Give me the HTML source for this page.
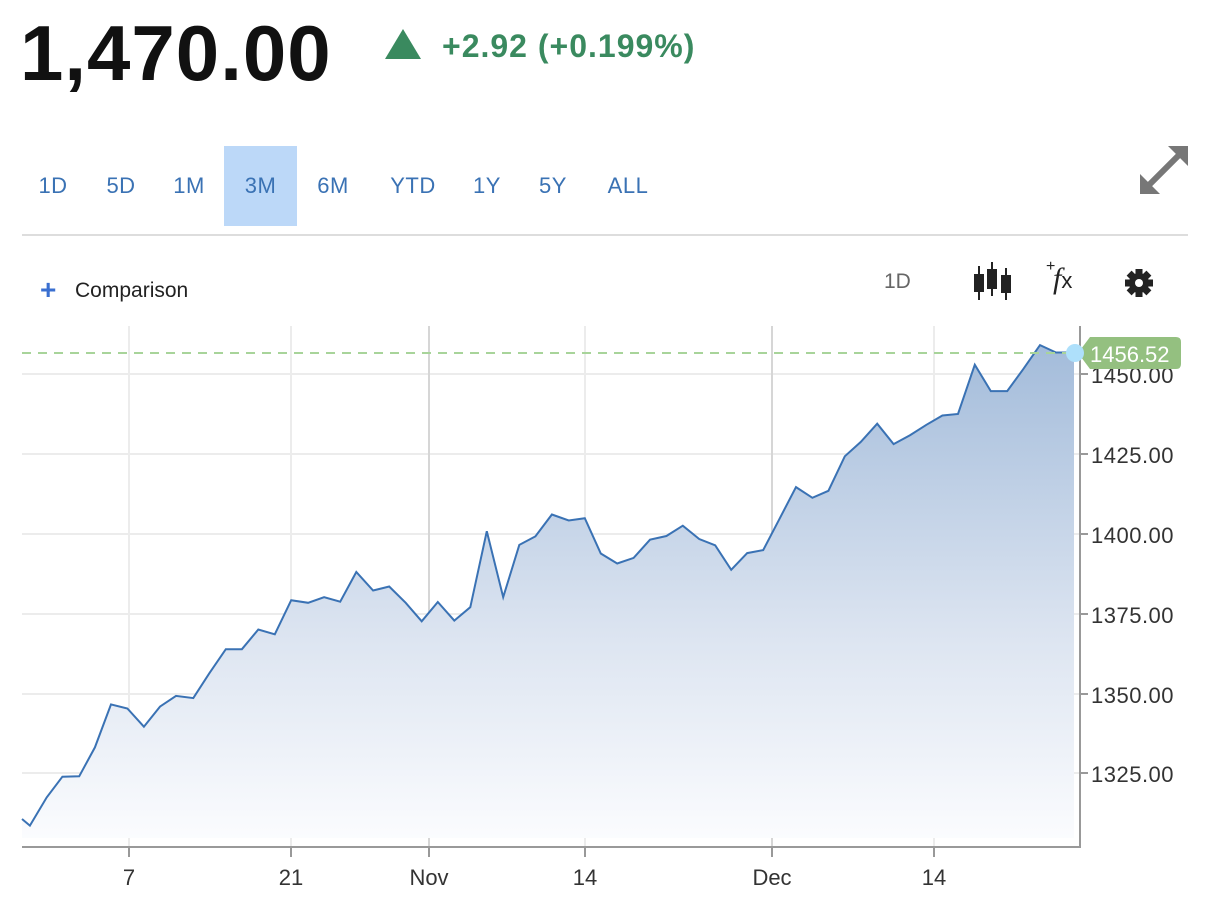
<!DOCTYPE html>
<html><head><meta charset="utf-8"><style>
body{margin:0;width:1210px;height:900px;background:#fff;font-family:"Liberation Sans",sans-serif;overflow:hidden;position:relative}
.a{position:absolute;white-space:nowrap}
.tab{position:absolute;top:146px;height:80px;line-height:80px;font-size:22px;color:#3a72b4;text-align:center;letter-spacing:0.5px}
</style></head><body>
<div class="a" style="left:20px;top:8px;font-size:78px;font-weight:bold;color:#111;letter-spacing:1px">1,470.00</div>
<svg class="a" style="left:384px;top:28px" width="38" height="32"><polygon points="19,1 37,31 1,31" fill="#3a8a5f"/></svg>
<div class="a" style="left:442px;top:28px;font-size:32px;font-weight:bold;color:#3a8a5f;letter-spacing:1px">+2.92 (+0.199%)</div>
<div class="a" style="left:224px;top:146px;width:73px;height:80px;background:#bcd8f8"></div>
<div class="tab" style="left:30px;width:46px">1D</div>
<div class="tab" style="left:98px;width:46px">5D</div>
<div class="tab" style="left:166px;width:46px">1M</div>
<div class="tab" style="left:224px;width:73px">3M</div>
<div class="tab" style="left:310px;width:46px">6M</div>
<div class="tab" style="left:380px;width:66px">YTD</div>
<div class="tab" style="left:464px;width:46px">1Y</div>
<div class="tab" style="left:530px;width:46px">5Y</div>
<div class="tab" style="left:600px;width:56px">ALL</div>
<svg class="a" style="left:1138px;top:144px" width="52" height="52"><g stroke="#777" stroke-width="6" fill="#777"><line x1="10" y1="42" x2="42" y2="10"/></g><polygon points="50,2 50,22 30,2" fill="#777"/><polygon points="2,50 2,30 22,50" fill="#777"/></svg>
<div class="a" style="left:22px;top:234px;width:1166px;height:2px;background:#ddd"></div>
<div class="a" style="left:40px;top:274px;font-size:28px;color:#3a6fd0;font-weight:bold">+</div>
<div class="a" style="left:75px;top:279px;font-size:21px;color:#222">Comparison</div>
<div class="a" style="left:884px;top:270px;font-size:21px;color:#666">1D</div>
<svg class="a" style="left:972px;top:262px" width="42" height="40"><g stroke="#222" stroke-width="2"><line x1="7" y1="4" x2="7" y2="38"/><line x1="20" y1="0" x2="20" y2="34"/><line x1="34" y1="6" x2="34" y2="38"/></g><g fill="#222"><rect x="2" y="12" width="10" height="18"/><rect x="15" y="7" width="10" height="20"/><rect x="29" y="13" width="10" height="18"/></g></svg>
<div class="a" style="left:1046px;top:258px;font-size:16px;color:#222">+</div>
<div class="a" style="left:1053px;top:262px;font-size:30px;font-style:italic;font-family:'Liberation Serif',serif;color:#222">f<span style="font-size:22px;font-style:normal;font-family:'Liberation Sans'">x</span></div>
<svg class="a" style="left:1124px;top:268px" width="30" height="30" viewBox="-15 -15 30 30"><g fill="#222"><circle r="10"/><g id="t"><rect x="-3.5" y="-14" width="7" height="28"/></g><use href="#t" transform="rotate(45)"/><use href="#t" transform="rotate(90)"/><use href="#t" transform="rotate(135)"/></g><circle r="4" fill="#fff"/></svg>
<svg class="a" style="left:0;top:0" width="1210" height="900">
<defs><linearGradient id="g" gradientUnits="userSpaceOnUse" x1="0" y1="340" x2="0" y2="840"><stop offset="0" stop-color="#a2bbda"/><stop offset="0.6" stop-color="#dde5f1"/><stop offset="1" stop-color="#fbfcfe"/></linearGradient></defs>
<g stroke="#ececec" stroke-width="2">
<line x1="22" y1="374" x2="1080" y2="374"/><line x1="22" y1="454" x2="1080" y2="454"/><line x1="22" y1="534" x2="1080" y2="534"/><line x1="22" y1="614" x2="1080" y2="614"/><line x1="22" y1="694" x2="1080" y2="694"/><line x1="22" y1="773" x2="1080" y2="773"/>
<line x1="129" y1="326" x2="129" y2="847"/><line x1="291" y1="326" x2="291" y2="847"/><line x1="585" y1="326" x2="585" y2="847"/><line x1="934" y1="326" x2="934" y2="847"/>
</g>
<g stroke="#d6d6d6" stroke-width="2"><line x1="429" y1="326" x2="429" y2="847"/><line x1="772" y1="326" x2="772" y2="847"/></g>
<path fill="url(#g)" d="M22,819 L29.9,825.6 46.7,797.4 62.4,776.7 79.2,776.3 94.9,747.4 111,704.4 127.4,708.5 143.9,726.7 160,706.6 176,695.9 193.3,698.1 209.3,673.3 225.8,649.2 241.9,649.2 258.3,629.5 274.8,634.3 291.2,600.2 308.1,602.8 324.1,597.2 340.2,601.7 356.3,572 373.1,590.5 389.2,586.5 405.7,602.8 421.7,621.3 437.8,602 454.3,620.6 470.3,607.2 486.8,531.2 503.2,597.2 519.3,544.9 535.4,536.4 551.9,514.5 568.7,520.5 584.8,518.2 600.8,553.5 617.2,563.5 633.6,557.9 650,539.7 666.4,536 682.8,525.7 699.2,539 715.2,545.3 731.2,569.8 747.2,553.1 763.2,550.1 779.2,519.4 796,487.1 812.4,497.8 828.4,490.8 844.8,456.3 860.8,441.9 877.2,423.7 893.6,444.1 910,435.2 926.4,424.8 942.4,415.5 958,414 974.8,364.7 990.8,391.1 1007.2,391.1 1023.2,369.2 1040,345.1 1056,352.5 1074,352.5 L1074,838 L22,838 Z"/>
<polyline fill="none" stroke="#3a72b4" stroke-width="2" points="22,819 29.9,825.6 46.7,797.4 62.4,776.7 79.2,776.3 94.9,747.4 111,704.4 127.4,708.5 143.9,726.7 160,706.6 176,695.9 193.3,698.1 209.3,673.3 225.8,649.2 241.9,649.2 258.3,629.5 274.8,634.3 291.2,600.2 308.1,602.8 324.1,597.2 340.2,601.7 356.3,572 373.1,590.5 389.2,586.5 405.7,602.8 421.7,621.3 437.8,602 454.3,620.6 470.3,607.2 486.8,531.2 503.2,597.2 519.3,544.9 535.4,536.4 551.9,514.5 568.7,520.5 584.8,518.2 600.8,553.5 617.2,563.5 633.6,557.9 650,539.7 666.4,536 682.8,525.7 699.2,539 715.2,545.3 731.2,569.8 747.2,553.1 763.2,550.1 779.2,519.4 796,487.1 812.4,497.8 828.4,490.8 844.8,456.3 860.8,441.9 877.2,423.7 893.6,444.1 910,435.2 926.4,424.8 942.4,415.5 958,414 974.8,364.7 990.8,391.1 1007.2,391.1 1023.2,369.2 1040,345.1 1056,352.5 1074,352.5"/>
<line x1="22" y1="353" x2="1076" y2="353" stroke="#a8d49a" stroke-width="2" stroke-dasharray="9,7"/>
<g stroke="#999" stroke-width="2"><line x1="22" y1="847" x2="1081" y2="847"/><line x1="1080" y1="326" x2="1080" y2="848"/>
<line x1="129" y1="847" x2="129" y2="857"/><line x1="291" y1="847" x2="291" y2="857"/><line x1="429" y1="847" x2="429" y2="857"/><line x1="585" y1="847" x2="585" y2="857"/><line x1="772" y1="847" x2="772" y2="857"/><line x1="934" y1="847" x2="934" y2="857"/>
<line x1="1080" y1="374" x2="1088" y2="374"/><line x1="1080" y1="454" x2="1088" y2="454"/><line x1="1080" y1="534" x2="1088" y2="534"/><line x1="1080" y1="614" x2="1088" y2="614"/><line x1="1080" y1="694" x2="1088" y2="694"/><line x1="1080" y1="773" x2="1088" y2="773"/></g>
<g font-family="Liberation Sans" font-size="22" fill="#333">
<g letter-spacing="0.5"><text x="1091" y="383">1450.00</text><text x="1091" y="463">1425.00</text><text x="1091" y="543">1400.00</text><text x="1091" y="623">1375.00</text><text x="1091" y="703">1350.00</text><text x="1091" y="782">1325.00</text></g>
<g text-anchor="middle"><text x="129" y="885">7</text><text x="291" y="885">21</text><text x="429" y="885">Nov</text><text x="585" y="885">14</text><text x="772" y="885">Dec</text><text x="934" y="885">14</text></g></g>
<path d="M1078,353 L1090,337 L1176,337 Q1181,337 1181,342 L1181,364 Q1181,369 1176,369 L1090,369 Z" fill="#94c080"/>
<text x="1090" y="362" font-family="Liberation Sans" font-size="22" fill="#fff">1456.52</text>
<circle cx="1075" cy="353" r="9" fill="#aee0fb"/>
</svg>
</body></html>
